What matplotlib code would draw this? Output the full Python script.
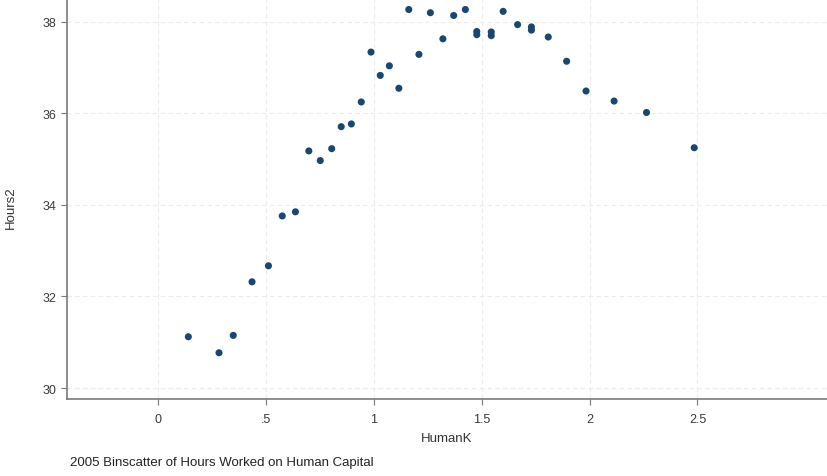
import matplotlib
matplotlib.use("Agg")
import matplotlib.pyplot as plt

# binscatter points
human_k = [0.142, 0.284, 0.350, 0.437, 0.513, 0.577, 0.638, 0.700, 0.753, 0.806,
           0.850, 0.897, 0.943, 0.988, 1.031, 1.073, 1.117, 1.163, 1.210, 1.263,
           1.321, 1.371, 1.425, 1.478, 1.478, 1.545, 1.545, 1.600, 1.667, 1.731,
           1.731, 1.809, 1.894, 1.984, 2.114, 2.264, 2.485]
hours2 = [31.12, 30.77, 31.15, 32.32, 32.67, 33.76, 33.85, 35.18, 34.97, 35.23,
          35.71, 35.77, 36.25, 37.34, 36.83, 37.04, 36.55, 38.27, 37.29, 38.20,
          37.63, 38.14, 38.27, 37.79, 37.72, 37.78, 37.70, 38.23, 37.94, 37.89,
          37.82, 37.67, 37.14, 36.49, 36.27, 36.02, 35.25]

x_ticks = [0, 0.5, 1, 1.5, 2, 2.5]
x_tick_labels = ["0", ".5", "1", "1.5", "2", "2.5"]
y_ticks = [30, 32, 34, 36, 38]

plt.rcParams["font.family"] = ["Liberation Sans", "DejaVu Sans"]

fig = plt.figure(figsize=(8.27, 4.77), dpi=100)
ax = fig.add_axes([67 / 827, 1 - 400 / 477, 1 - 67 / 827, 400 / 477])

ax.scatter(human_k, hours2, s=26, color="#1a476f", edgecolors="none", zorder=3)

ax.set_xlim(-0.42, 3.1)
ax.set_ylim(29.76, 38.5)
ax.set_xticks(x_ticks)
ax.set_xticklabels(x_tick_labels)
ax.set_yticks(y_ticks)

ax.grid(True, color="#ececec", linestyle=(0, (4, 3)), linewidth=0.8)
ax.set_axisbelow(True)

for side in ["top", "right"]:
    ax.spines[side].set_visible(False)
for side in ["left", "bottom"]:
    ax.spines[side].set_color("#7a7a7a")
    ax.spines[side].set_linewidth(1.2)

ax.tick_params(axis="both", colors="#7a7a7a", labelcolor="#3a3a3a",
               labelsize=9, length=4, width=0.8)
ax.tick_params(axis="x", pad=6)

ax.set_xlabel("HumanK", fontsize=9.5, color="#333333", labelpad=5)
ax.set_ylabel("Hours2", fontsize=9.5, color="#333333", labelpad=16)
ax.yaxis.set_label_coords(-0.066, 0.48)

fig.text(70 / 827, 1 - 463 / 477, "2005 Binscatter of Hours Worked on Human Capital",
         fontsize=9.5, color="#222222", va="center", ha="left")

fig.savefig("out.png", dpi=100)
